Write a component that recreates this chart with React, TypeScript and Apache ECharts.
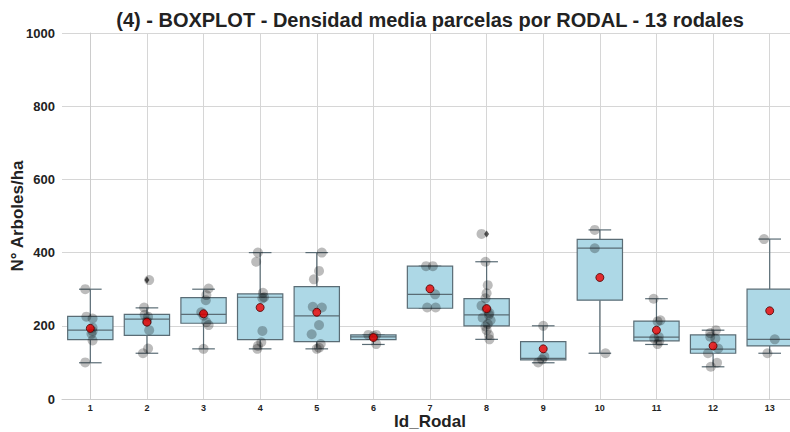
import React, { useEffect, useRef } from "react";
import * as echarts from "echarts";

const rodales = ["1", "2", "3", "4", "5", "6", "7", "8", "9", "10", "11", "12", "13"];
const yTicks = [0, 200, 400, 600, 800, 1000];

// box statistics
const boxMin = [99, 125, 137, 137, 137, 149, 248, 163, 99, 125, 149, 88, 125];
const boxQ1 = [162, 174, 207, 162, 157, 162, 248, 200, 107, 270, 159, 125, 145];
const boxMed = [188, 218, 231, 278, 227, 170, 286, 230, 111, 412, 169, 136, 163];
const boxQ3 = [226, 231, 277, 287, 307, 175, 363, 274, 157, 436, 213, 175, 300];
const boxMax = [300, 249, 300, 400, 400, 175, 363, 375, 200, 462, 274, 188, 437];
const means = [193, 210, 233, 250, 237, 168, 301, 247, 137, 332, 188, 145, 241];
const outlierIdx = [1, 7];
const outlierVal = [325, 451];

// individual plot values and horizontal jitter (category units), per rodal
const pointValues = [
  [300, 225, 220, 195, 185, 178, 160, 100],
  [325, 250, 230, 225, 212, 188, 138, 125],
  [302, 284, 270, 237, 228, 210, 202, 137],
  [400, 375, 290, 278, 275, 186, 155, 145, 137],
  [400, 350, 327, 252, 250, 202, 177, 150, 140, 137],
  [175, 175, 172, 150],
  [363, 363, 286, 250, 250],
  [451, 375, 311, 289, 275, 255, 245, 235, 230, 222, 215, 205, 198, 188, 175, 163],
  [200, 116, 108, 100],
  [462, 412, 125],
  [274, 215, 212, 170, 165, 158, 150],
  [188, 180, 170, 165, 138, 125, 99, 88],
  [437, 163, 125],
];
const pointJitter = [
  [-0.09, -0.07, 0.04, 0.04, 0.04, 0.02, 0.04, -0.09],
  [0.04, -0.05, -0.04, 0.02, 0, 0.04, 0.02, -0.07],
  [0.09, 0.05, 0.04, -0.04, 0, 0.05, 0.09, 0],
  [-0.04, -0.07, 0.05, 0.07, 0.04, 0.04, 0.02, -0.04, -0.05],
  [0.09, 0.04, -0.05, -0.07, 0.09, 0.04, -0.09, 0.07, 0.04, 0],
  [-0.09, 0.05, 0, 0.05],
  [-0.07, 0.05, 0.09, -0.05, 0.1],
  [-0.09, -0.02, 0.02, 0, -0.02, -0.09, 0, 0.05, 0.04, -0.07, 0.07, 0.02, -0.02, 0, 0.04, 0.05],
  [0, 0.02, -0.02, -0.09],
  [-0.09, -0.09, 0.1],
  [-0.05, 0.07, 0.02, 0.04, -0.04, 0.05, 0.02],
  [0.05, -0.05, -0.05, 0.04, 0.09, -0.09, 0.07, -0.04],
  [-0.1, 0.09, -0.04],
];

const FONT = "Liberation Sans, Arial, sans-serif";
const EDGE = "#5a6c75";

export default function App() {
  const ref = useRef<HTMLDivElement>(null);
  useEffect(() => {
    document.body.style.margin = "0";
    const chart = echarts.init(ref.current!, null, { renderer: "svg" });
    const boxData = rodales.map((_, i) => [i, boxMin[i], boxQ1[i], boxMed[i], boxQ3[i], boxMax[i]]);
    const pts: number[][] = [];
    pointValues.forEach((arr, i) => arr.forEach((v, j) => pts.push([i + pointJitter[i][j], v])));
    chart.setOption({
      animation: false,
      graphic: [
        {
          type: "text",
          x: 430,
          y: 20,
          style: {
            text: "(4) - BOXPLOT - Densidad media parcelas por RODAL - 13 rodales",
            font: `bold 20px ${FONT}`,
            fill: "#222",
            textAlign: "center",
            textVerticalAlign: "middle",
          },
        },
      ],
      grid: { left: 62, right: -8, top: 33, bottom: 33, containLabel: false, outerBoundsMode: "none" },
      xAxis: [
        {
          type: "category",
          data: rodales,
          boundaryGap: true,
          name: "Id_Rodal",
          nameLocation: "middle",
          nameGap: 14,
          nameMoveOverlap: false,
          nameTextStyle: { fontFamily: FONT, fontWeight: "bold", fontSize: 17, color: "#222" },
          axisLine: { show: true, lineStyle: { color: "#cccccc", width: 1 } },
          axisTick: { show: false },
          axisLabel: { fontFamily: FONT, fontWeight: "bold", fontSize: 9, color: "#222", margin: 4 },
          splitLine: { show: true, alignWithLabel: true, lineStyle: { color: "#d6d6d6", width: 1 } },
        },
        { type: "value", min: -0.5, max: 12.5, show: false },
      ],
      yAxis: {
        type: "value",
        min: 0,
        max: 1000,
        interval: 200,
        name: "N° Arboles/ha",
        nameLocation: "middle",
        nameGap: 36,
        nameRotate: 90,
        nameMoveOverlap: false,
        nameTextStyle: { fontFamily: FONT, fontWeight: "bold", fontSize: 17, color: "#222" },
        axisLine: { show: true, lineStyle: { color: "#cccccc", width: 1 } },
        axisTick: { show: false },
        axisLabel: {
          fontFamily: FONT,
          fontWeight: "bold",
          fontSize: 13,
          color: "#222",
          margin: 7,
          formatter: (v: number) => (yTicks.includes(v) ? String(v) : ""),
        },
        splitLine: { show: true, lineStyle: { color: "#d6d6d6", width: 1 } },
      },
      series: [
        {
          type: "custom",
          xAxisIndex: 0,
          encode: { x: 0, y: [1, 2, 3, 4, 5] },
          data: boxData,
          z: 2,
          renderItem: (params: any, api: any) => {
            const i = api.value(0);
            const bw = api.size([1, 0])[0];
            const half = bw * 0.4;
            const cap = bw * 0.2;
            const cx = api.coord([i, api.value(3)])[0];
            const yMin = api.coord([i, api.value(1)])[1];
            const yQ1 = api.coord([i, api.value(2)])[1];
            const yMed = api.coord([i, api.value(3)])[1];
            const yQ3 = api.coord([i, api.value(4)])[1];
            const yMax = api.coord([i, api.value(5)])[1];
            const ls = { stroke: EDGE, lineWidth: 1.2 };
            return {
              type: "group",
              children: [
                { type: "line", shape: { x1: cx, y1: yQ3, x2: cx, y2: yMax }, style: ls },
                { type: "line", shape: { x1: cx, y1: yQ1, x2: cx, y2: yMin }, style: ls },
                { type: "line", shape: { x1: cx - cap, y1: yMax, x2: cx + cap, y2: yMax }, style: ls },
                { type: "line", shape: { x1: cx - cap, y1: yMin, x2: cx + cap, y2: yMin }, style: ls },
                {
                  type: "rect",
                  shape: { x: cx - half, y: yQ3, width: half * 2, height: Math.max(yQ1 - yQ3, 1) },
                  style: { fill: "#add8e6", stroke: EDGE, lineWidth: 1.2 },
                },
                { type: "line", shape: { x1: cx - half, y1: yMed, x2: cx + half, y2: yMed }, style: ls },
              ],
            };
          },
        },
        {
          type: "scatter",
          xAxisIndex: 0,
          data: outlierIdx.map((idx, k) => [idx, outlierVal[k]]),
          symbol: "diamond",
          symbolSize: [5, 7],
          itemStyle: { color: "#333" },
          z: 3,
        },
        {
          type: "scatter",
          xAxisIndex: 1,
          data: pts,
          symbol: "circle",
          symbolSize: 10,
          itemStyle: { color: "rgba(0,0,0,0.33)" },
          z: 4,
        },
        {
          type: "scatter",
          xAxisIndex: 0,
          data: means.map((m, i) => [i, m]),
          symbol: "circle",
          symbolSize: 8,
          itemStyle: { color: "#ee0000", borderColor: "#4a0000", borderWidth: 1 },
          z: 5,
        },
      ],
    });
    return () => chart.dispose();
  }, []);
  return <div ref={ref} style={{ width: 790, height: 432 }} />;
}
